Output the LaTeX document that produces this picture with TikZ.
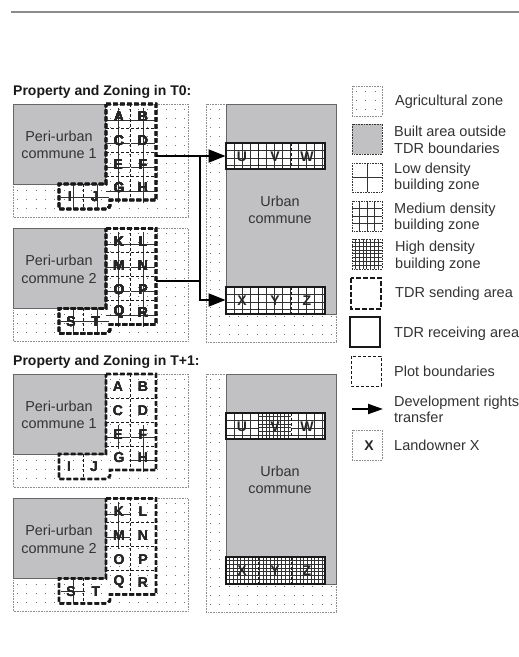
\documentclass[tikz,border=0pt]{standalone}
\usepackage{fontspec}
\setmainfont{Liberation Sans}
\usetikzlibrary{arrows.meta}
\definecolor{builtgray}{HTML}{C1C1C3}
\definecolor{txt}{HTML}{333333}
\tikzset{
  x=1pt,y=-1pt,
  agriborder/.style={draw=black!45,line width=0.6pt,dash pattern=on 0.8pt off 0.8pt},
  agridots/.style={draw=black!55,line width=0.9pt,dash pattern=on 0.9pt off 8.4pt},
  built/.style={fill=builtgray,draw=black!60,line width=0.8pt},
  builtleg/.style={fill=builtgray,agriborder,draw=black!80},
  gridline/.style={draw=black!80,line width=0.8pt},
  sending/.style={draw=black!90,line width=2.4pt,dash pattern=on 4.6pt off 2.4pt,line join=miter},
  plotline/.style={draw=black!90,line width=0.9pt,dash pattern=on 3pt off 2pt},
  receiving/.style={draw=black!90,line width=2.8pt},
  flow/.style={draw=black,line width=2pt,-{Triangle[length=17pt,width=13pt]}},
  flowline/.style={draw=black,line width=1.5pt},
  lab/.style={font=\fontsize{14.4}{17.5}\selectfont,text=txt,align=center,inner sep=0pt},
  leg/.style={font=\fontsize{14.5}{16.5}\selectfont,text=txt,align=left,anchor=west,inner sep=0pt},
  letter/.style={font=\bfseries\fontsize{14}{14}\selectfont,text=black!85,inner sep=0pt},
  ttl/.style={font=\bfseries\fontsize{14}{14}\selectfont,text=black!90,anchor=west,inner sep=0pt},
}
% agricultural zone: x1 y1 x2 y2
\newcommand{\agrizone}[4]{%
  \begin{scope}
    \clip (#1,#2) rectangle (#3,#4);
    \foreach \k in {0,...,30}{
      \pgfmathsetmacro{\yy}{#2+5+9*\k}
      \pgfmathparse{\yy<#4?1:0}
      \ifnum\pgfmathresult=1
        \draw[agridots] (#1+4,\yy) -- (#3,\yy);
      \fi
    }
  \end{scope}
  \draw[agriborder] (#1,#2) rectangle (#3,#4);
}
% rectangular line grid: x1 y1 x2 y2 dx dy
\newcommand{\linegrid}[6]{%
  \foreach \k in {1,...,40}{
    \pgfmathsetmacro{\xx}{#1+#5*\k}
    \pgfmathparse{\xx<#3-0.5?1:0}
    \ifnum\pgfmathresult=1 \draw[gridline] (\xx,#2) -- (\xx,#4); \fi
    \pgfmathsetmacro{\yy}{#2+#6*\k}
    \pgfmathparse{\yy<#4-0.5?1:0}
    \ifnum\pgfmathresult=1 \draw[gridline] (#1,\yy) -- (#3,\yy); \fi
  }
}
\newcommand{\periframe}[2]{%
  \agrizone{13}{104}{188}{217}
  \path[built] (13,104) rectangle (105,184);
  \node[lab] (label#1) at (59,145) {Peri-urban\\commune #2};
}
\newcommand{\periplots}[1]{%
  \foreach \yy in {128,152,176} \draw[plotline] (106,\yy) -- (156,\yy);
  \draw[plotline] (130.5,104) -- (130.5,200);
  \draw[plotline] (83,184) -- (83,209);
  \draw[sending] (106,104) -- (156,104) -- (156,200) -- (110,200) -- (110,206) -- (107,209) -- (59,209) -- (59,184) -- (106,184) -- cycle;
}
\newcommand{\plotcross}[2]{%
  \draw[gridline] (#1-12,#2) -- (#1+12,#2);
  \draw[gridline] (#1,#2-12) -- (#1,#2+12);
}
\newcommand{\urbanframe}[1]{%
  \agrizone{206}{104}{336}{342}
  \path[built] (226,104) rectangle (336,314);
  \node[lab] (urban#1) at (280,210) {Urban\\commune};
}
\begin{document}
\begin{tikzpicture}
\useasboundingbox (0,0) rectangle (519,657);
\fill[white] (0,0) rectangle (519,657);
\draw[black!45,line width=1.5pt] (11,12) -- (519,12);

\node[ttl] (title0) at (13,92) {Property and Zoning in T0:};
\node[ttl] (title1) at (13,362) {Property and Zoning in T+1:};

%%%%%%%%%%%%%% T0 panel 1
\periframe{a}{1}
\foreach \cx/\cy in {118/120,143/120,118/143,143/143,118/167,143/167,118/191,143/191,73/197,97/197}
  \plotcross{\cx}{\cy}
\periplots{a}
\foreach \cx/\cy/\L in {119/117/A,143/117/B,119/141/C,143/141/D,118/165/E,143/165/F,119/188/G,143/188/H,70/197/I,95/197/J}
  \node[letter] (aa\L) at (\cx,\cy) {\L};

%%%%%%%%%%%%%% T0 panel 2
\begin{scope}[shift={(0,124.3)}]
\periframe{b}{2}
\foreach \cx/\cy in {118/120,143/120,118/143,143/143,118/167,143/167,118/191,143/191,73/197,97/197}
  \plotcross{\cx}{\cy}
\periplots{b}
\foreach \cx/\cy/\L in {119/117/K,143/117/L,119/141/M,143/141/N,119/165/O,143/165/P,119/188/Q,143/188/R,71/197/S,96/197/T}
  \node[letter] (ab\L) at (\cx,\cy) {\L};
\end{scope}

%%%%%%%%%%%%%% T0 urban
\urbanframe{a}
\path[fill=white] (226,143) rectangle (325,169);
\linegrid{226}{143}{325}{169}{8}{7.6}
\draw[plotline] (258.5,143) -- (258.5,169);
\draw[plotline] (291,143) -- (291,169);
\draw[receiving] (226,143) rectangle (325,169);
\foreach \cx/\L in {242/U,275/V,307/W} \node[letter] (ar\L) at (\cx,157) {\L};
\path[fill=white] (226,287) rectangle (325,314);
\linegrid{226}{287}{325}{314}{8}{7.6}
\draw[plotline] (258.5,287) -- (258.5,314);
\draw[plotline] (291,287) -- (291,314);
\draw[receiving] (226,287) rectangle (325,314);
\foreach \cx/\L in {242/X,275/Y,307/Z} \node[letter] (ar\L) at (\cx,301) {\L};

% transfers
\coordinate (send1) at (156,156);
\coordinate (send2) at (156,281);
\coordinate (junc1) at (199.5,156);
\coordinate (junc2) at (199.5,281);
\coordinate (recv1) at (225.5,156);
\coordinate (recv2) at (225.5,300);
\draw[flow] (send1) -- (recv1);
\draw[flow] (junc1) |- (recv2);
\draw[flowline] (send2) -- (junc2);

%%%%%%%%%%%%%% T+1 panel 1
\begin{scope}[shift={(0,270)}]
\periframe{c}{1}
\foreach \cx/\cy in {118/167,143/167,143/190}
  \plotcross{\cx}{\cy}
\periplots{c}
\foreach \cx/\cy/\L in {118/117/A,143/117/B,118/141/C,143/141/D,118/165/E,143/165/F,119/188/G,143/188/H,69/197/I,94/197/J}
  \node[letter] (ca\L) at (\cx,\cy) {\L};
\end{scope}

%%%%%%%%%%%%%% T+1 panel 2
\begin{scope}[shift={(0,394.3)}]
\periframe{d}{2}
\foreach \cx/\cy in {118/120,118/143,73/197}
  \plotcross{\cx}{\cy}
\periplots{d}
\foreach \cx/\cy/\L in {119/117/K,143/117/L,119/141/M,143/141/N,119/165/O,143/165/P,119/188/Q,143/188/R,71/197/S,96/197/T}
  \node[letter] (cb\L) at (\cx,\cy) {\L};
\end{scope}

%%%%%%%%%%%%%% T+1 urban
\begin{scope}[shift={(0,270)}]
\urbanframe{c}
\path[fill=white] (226,143) rectangle (325,169);
\linegrid{226}{143}{325}{169}{8}{7.6}
\path[fill=white] (258.5,143) rectangle (291,169);
\linegrid{258.5}{143}{291}{169}{3.7}{3.7}
\draw[plotline] (258.5,143) -- (258.5,169);
\draw[plotline] (291,143) -- (291,169);
\draw[receiving] (226,143) rectangle (325,169);
\foreach \cx/\L in {242/U,275/V,307/W} \node[letter] (cr\L) at (\cx,157) {\L};
\path[fill=white] (226,287) rectangle (325,314);
\linegrid{226}{287}{325}{314}{3.7}{3.7}
\draw[plotline] (258.5,287) -- (258.5,314);
\draw[plotline] (291,287) -- (291,314);
\draw[receiving] (226,287) rectangle (325,314);
\foreach \cx/\L in {242/X,275/Y,307/Z} \node[letter] (cr\L) at (\cx,301) {\L};
\end{scope}

%%%%%%%%%%%%%% legend
\agrizone{352}{86}{382}{116}
\node[leg] (l1) at (395,102) {Agricultural zone};
\path[builtleg] (352,124) rectangle (382,154);
\node[leg] (l2) at (394,140) {Built area outside\\TDR boundaries};
\linegrid{352}{163}{382}{192}{15}{14.5}
\draw[agriborder,draw=black!80] (352,163) rectangle (382,192);
\node[leg] (l3) at (394,177.5) {Low density\\building zone};
\linegrid{352}{201}{382}{231}{7.5}{7.5}
\draw[agriborder,draw=black!80] (352,201) rectangle (382,231);
\node[leg] (l4) at (394,217.5) {Medium density\\building zone};
\linegrid{352}{239}{382}{269}{3.7}{3.7}
\draw[agriborder,draw=black!80] (352,239) rectangle (382,269);
\node[leg] (l5) at (395,256) {High density\\building zone};
\draw[sending] (351,278) rectangle (381,309);
\node[leg] (l6) at (395,294) {TDR sending area};
\draw[receiving] (350,317) rectangle (380,347);
\node[leg] (l7) at (394,334) {TDR receiving area};
\draw[plotline,line width=1pt] (351,356) rectangle (381,386);
\node[leg] (l8) at (394,371) {Plot boundaries};
\coordinate (legarrowa) at (352,409);
\coordinate (legarrowb) at (383,409);
\draw[flow,-{Triangle[length=15pt,width=10pt]}] (legarrowa) -- (legarrowb);
\node[leg] (l9) at (394,409.5) {Development rights\\transfer};
\draw[agriborder] (352,430) rectangle (382,460);
\node[letter] (legx) at (369,446) {X};
\node[leg] (l10) at (394,445) {Landowner X};
\end{tikzpicture}
\end{document}
